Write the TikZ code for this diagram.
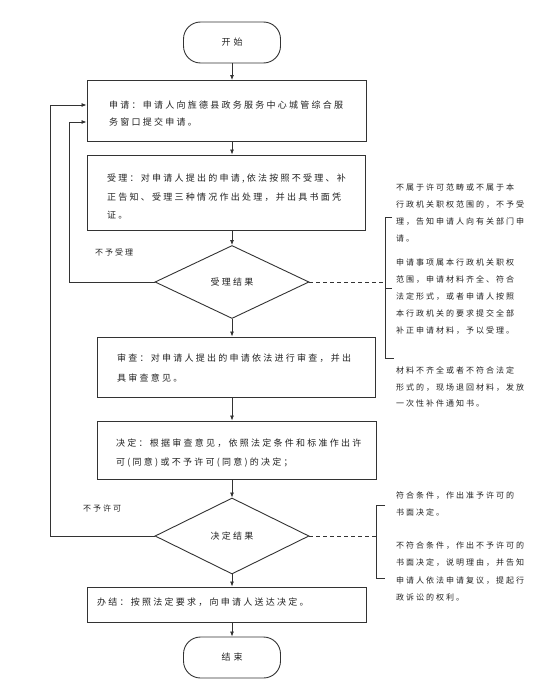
\documentclass[tikz,border=0pt]{standalone}
\usepackage{fontspec}
\setmainfont{Liberation Sans}
\newfontfamily\cjk[LetterSpace=25]{Noto Sans CJK SC}
\usetikzlibrary{shapes.geometric,arrows.meta}
\definecolor{ln}{HTML}{333333}
\definecolor{tx}{HTML}{222222}
\tikzset{
  boxnode/.style={draw=ln,line width=0.9pt,rectangle,inner sep=0pt},
  termnode/.style={draw=ln,line width=0.9pt,rectangle,rounded corners=17pt,minimum width=97pt,minimum height=41pt,inner sep=0pt,font=\cjk\fontsize{9}{11}\selectfont,text=tx},
  decnode/.style={draw=ln,line width=0.9pt,diamond,minimum width=154pt,inner sep=0pt,font=\cjk\fontsize{9}{11}\selectfont,text=tx},
  btext/.style={anchor=north west,inner sep=0pt,align=left,text=tx},
  stext/.style={anchor=north west,inner sep=0pt,align=left,text=tx},
  arr/.style={draw=ln,line width=0.8pt,-{Latex[length=5pt,width=4pt]}},
  plain/.style={draw=ln,line width=0.8pt},
  dashline/.style={draw=ln,line width=0.8pt,dash pattern=on 4pt off 3pt}
}
\begin{document}
\begin{tikzpicture}[x=1pt,y=-1pt]
\useasboundingbox[fill=white] (0,0) rectangle (534,682);
% main column
\node[termnode] (start) at (232,42.5) {开\hspace{3pt}始};
\node[boxnode,minimum width=279pt,minimum height=61pt] (b1) at (226.5,111) {};
\node[boxnode,minimum width=278pt,minimum height=75pt] (b2) at (226,192.5) {};
\node[decnode,minimum height=73pt] (d1) at (232,282) {受理结果};
\node[boxnode,minimum width=278pt,minimum height=60pt] (b3) at (236,367) {};
\node[boxnode,minimum width=279pt,minimum height=58pt] (b4) at (236.5,450) {};
\node[decnode,minimum height=76pt] (d2) at (232,536) {决定结果};
\node[boxnode,minimum width=279pt,minimum height=35pt] (b5) at (226.5,604.5) {};
\node[termnode] (end) at (232,657.5) {结\hspace{3pt}束};
% box texts
\node[btext,font=\cjk\fontsize{9}{17}\selectfont] (t1) at (109,101) {申请：申请人向旌德县政务服务中心城管综合服\\务窗口提交申请。};
\node[btext,font=\cjk\fontsize{9}{18.5}\selectfont] (t2) at (107,174) {受理：对申请人提出的申请,依法按照不受理、补\\正告知、受理三种情况作出处理，并出具书面凭\\证。};
\node[btext,font=\cjk\fontsize{9}{20}\selectfont] (t3) at (117,354) {审查：对申请人提出的申请依法进行审查，并出\\具审查意见。};
\node[btext,font=\cjk\fontsize{9}{19}\selectfont] (t4) at (116,439) {决定：根据审查意见，依照法定条件和标准作出许\\可(同意)或不予许可(同意)的决定；};
\node[btext,font=\cjk\fontsize{9}{17}\selectfont] (t5) at (97,598) {办结：按照法定要求，向申请人送达决定。};
% side labels
\node[stext,font=\cjk\fontsize{8}{10}\selectfont] (l1) at (95,248.5) {不予受理};
\node[stext,font=\cjk\fontsize{8}{10}\selectfont] (l2) at (83,504.5) {不予许可};
% right notes
\node[stext,font=\cjk\fontsize{8}{17}\selectfont] (n1) at (396,183.5) {不属于许可范畴或不属于本\\行政机关职权范围的，不予受\\理，告知申请人向有关部门申\\请。};
\node[stext,font=\cjk\fontsize{8}{17}\selectfont] (n2) at (396,258.5) {申请事项属本行政机关职权\\范围，申请材料齐全、符合\\法定形式，或者申请人按照\\本行政机关的要求提交全部\\补正申请材料，予以受理。};
\node[stext,font=\cjk\fontsize{8}{16.5}\selectfont] (n3) at (396,366.5) {材料不齐全或者不符合法定\\形式的，现场退回材料，发放\\一次性补件通知书。};
\node[stext,font=\cjk\fontsize{8}{17}\selectfont] (n4) at (396,491.5) {符合条件，作出准予许可的\\书面决定。};
\node[stext,font=\cjk\fontsize{8}{17.3}\selectfont] (n5) at (396,541.5) {不符合条件，作出不予许可的\\书面决定，说明理由，并告知\\申请人依法申请复议，提起行\\政诉讼的权利。};
% main arrows
\draw[arr] (start.south) -- (start.south |- b1.north);
\draw[arr] (start.south |- b1.south) -- (start.south |- b2.north);
\draw[arr] (start.south |- b2.south) -- (d1.north);
\draw[arr] (d1.south) -- (d1.south |- b3.north);
\draw[arr] (d1.south |- b3.south) -- (d2.north |- b4.north);
\draw[arr] (d2.north |- b4.south) -- (d2.north);
\draw[arr] (d2.south) -- (d2.south |- b5.north);
\draw[arr] (end.north |- b5.south) -- (end.north);
% feedback loops
\coordinate (f1) at (69,122);
\coordinate (f2) at (50,105);
\draw[arr] (d1.west) -| (f1) -- (b1.west |- f1);
\draw[arr] (d2.west) -| (f2) -- (b1.west |- f2);
% bracket 1
\coordinate (k1t) at (385,217);
\coordinate (k1m) at (385,288);
\coordinate (k1b) at (385,358);
\draw[dashline] (d1.east) -- (d1.east -| k1t);
\draw[plain] ([xshift=7pt]k1t) -- (k1t) -- (k1b) -- ([xshift=9pt]k1b);
\draw[plain] (k1m) -- ([xshift=7pt]k1m);
% bracket 2
\coordinate (k2t) at (376,505);
\coordinate (k2b) at (376,578);
\draw[dashline] (d2.east) -- (d2.east -| k2t);
\draw[plain] ([xshift=9pt]k2t) -- (k2t) -- (k2b) -- ([xshift=9pt]k2b);
\end{tikzpicture}
\end{document}
